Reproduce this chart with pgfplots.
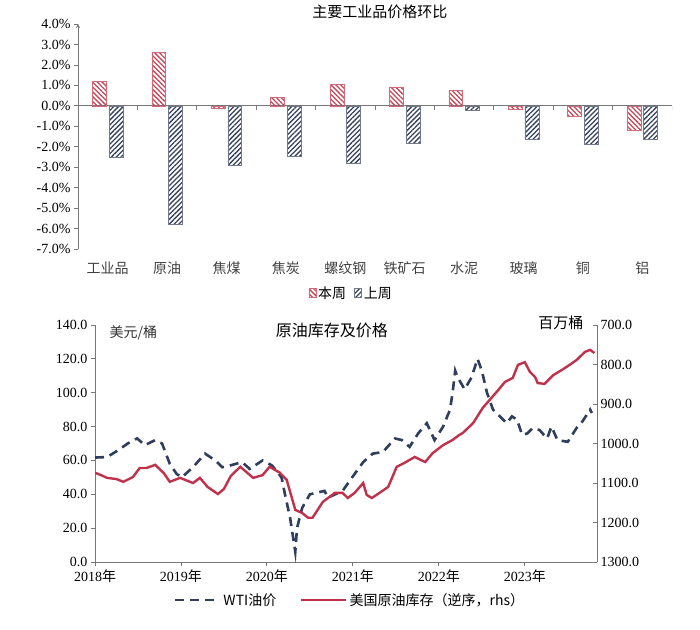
\documentclass[border=0pt]{standalone}
\usepackage{fontspec}
\setmainfont{Liberation Serif}
\newfontfamily\cjk{Noto Sans CJK SC}
\usepackage{pgfplots}
\usepackage{pgfplotstable}
\pgfplotsset{compat=1.18}
\usetikzlibrary{patterns.meta}

\definecolor{barred}{RGB}{196,70,88}
\definecolor{barblue}{RGB}{52,64,92}
\definecolor{oilred}{RGB}{192,50,75}
\definecolor{wtiblue}{RGB}{46,62,92}
\definecolor{axgray}{RGB}{120,120,120}

% weekly change, percent
\pgfplotstableread{
x ben shang
0  1.20 -2.50
1  2.62 -5.80
2 -0.10 -2.90
3  0.40 -2.45
4  1.05 -2.80
5  0.92 -1.85
6  0.75 -0.20
7 -0.15 -1.65
8 -0.50 -1.90
9 -1.20 -1.65
}\barsdata

\pgfplotstableread{
t wti
2018.00 61.7
2018.14 62
2018.27 66
2018.38 70
2018.49 73
2018.58 69
2018.70 72
2018.78 70
2018.87 58
2018.95 52
2019.01 50
2019.14 56
2019.28 64
2019.40 60
2019.48 56
2019.57 57
2019.71 59
2019.80 55
2019.95 60
2020.06 57
2020.17 50
2020.21 40
2020.27 26
2020.33 6
2020.35 20
2020.41 32
2020.50 40
2020.67 42
2020.71 38
2020.88 42
2021.02 52
2021.12 59
2021.23 64
2021.35 65
2021.49 73
2021.57 72
2021.66 68
2021.76 76
2021.86 82
2021.95 72
2022.05 80
2022.13 90
2022.16 100
2022.19 113
2022.22 109
2022.30 102
2022.38 109
2022.45 120
2022.50 113
2022.56 100
2022.63 90
2022.71 86
2022.79 82
2022.85 86
2022.91 84
2022.97 75
2023.03 76
2023.09 79
2023.17 78
2023.26 73
2023.31 80
2023.38 72
2023.50 71
2023.60 79
2023.67 83
2023.76 90
2023.78 88
}\wtidata

\pgfplotstableread{
t inv
2018.00 1074
2018.07 1080
2018.14 1087
2018.25 1090
2018.33 1097
2018.44 1085
2018.52 1062
2018.60 1062
2018.70 1054
2018.80 1075
2018.87 1097
2018.99 1087
2019.14 1100
2019.22 1087
2019.31 1110
2019.43 1128
2019.50 1115
2019.58 1082
2019.69 1059
2019.84 1087
2019.95 1080
2020.03 1059
2020.15 1074
2020.23 1092
2020.33 1168
2020.41 1176
2020.48 1188
2020.53 1188
2020.65 1148
2020.79 1125
2020.88 1125
2020.94 1138
2021.02 1125
2021.12 1100
2021.16 1130
2021.22 1138
2021.31 1125
2021.41 1110
2021.51 1059
2021.60 1049
2021.72 1034
2021.84 1047
2021.93 1024
2022.05 1004
2022.16 991
2022.24 978
2022.28 973
2022.40 948
2022.51 910
2022.67 870
2022.77 844
2022.86 834
2022.92 801
2023.00 794
2023.06 819
2023.12 832
2023.15 847
2023.23 849
2023.33 827
2023.43 814
2023.52 801
2023.60 789
2023.70 768
2023.76 763
2023.81 771
}\invdata

\pgfplotsset{
  every axis/.append style={font=\fontsize{14}{16}\selectfont},
  /pgf/number format/assume math mode=true,
}

\begin{document}
\begin{tikzpicture}
\path[use as bounding box] (0,0) rectangle (700pt,629pt);

% ---- top: bar chart
\begin{axis}[
  at={(78pt,380pt)}, anchor=south west,
  scale only axis, width=594pt, height=225pt,
  xmin=-0.5, xmax=9.5, ymin=-7, ymax=4,
  axis y line=left, axis x line=bottom,
  x axis line style={draw=none}, y axis line style={axgray, line width=0.8pt},
  ytick={-7,...,4},
  yticklabel={\pgfmathprintnumber[fixed,fixed zerofill,precision=1]{\tick}\%},
  tick style={axgray, line width=0.8pt},
  major tick length=4pt, tick align=outside,
  xtick={0,...,9},
  major x tick style={draw=none},
  xticklabels={工业品,原油,焦煤,焦炭,螺纹钢,铁矿石,水泥,玻璃,铜,铝},
  xticklabel style={font=\cjk\fontsize{14}{16}\selectfont, text=black!75, yshift=-5pt},
  extra y ticks={0}, extra y tick labels={},
  extra y tick style={grid=major, major grid style={axgray, line width=0.8pt}},
  title={\cjk 主要工业品价格环比},
  title style={at={(0.508,1.0)}, anchor=south, yshift=-4pt, font=\fontsize{15}{17}\selectfont},
  legend style={at={(0.46,-0.196)}, anchor=center, draw=none, fill=none,
    legend columns=2, font=\cjk\fontsize{14}{16}\selectfont,
    /tikz/every even column/.append style={column sep=6pt}},
  legend image code/.code={\draw[#1] (0pt,-4pt) rectangle (7pt,5pt);},
]
\addplot[ycomb, axgray, line width=0.8pt, forget plot] coordinates
  {(-0.5,-0.2) (0.5,-0.2) (1.5,-0.2) (2.5,-0.2) (3.5,-0.2) (4.5,-0.2)
   (5.5,-0.2) (6.5,-0.2) (7.5,-0.2) (8.5,-0.2) (9.5,-0.2)};
\addplot[ybar, bar width=0.235, bar shift=-0.14, draw=barred!80, line width=0.6pt,
  pattern={Lines[angle=-45,distance=3.4pt,line width=1.3pt]}, pattern color=barred]
  table[x=x, y=ben] {\barsdata};
\addlegendentry{本周}
\addplot[ybar, bar width=0.235, bar shift=0.14, draw=barblue!70, line width=0.6pt,
  pattern={Lines[angle=45,distance=3.4pt,line width=1.3pt]}, pattern color=barblue]
  table[x=x, y=shang] {\barsdata};
\addlegendentry{上周}
\end{axis}

% ---- bottom: oil price and inventory
\begin{axis}[
  at={(95pt,67pt)}, anchor=south west,
  scale only axis, width=502pt, height=237pt,
  xmin=2018, xmax=2023.84, ymin=0, ymax=140,
  clip mode=individual,
  axis y line*=left, axis x line*=bottom,
  axis line style={axgray, line width=0.8pt},
  tick style={axgray, line width=0.8pt},
  major tick length=4pt, tick align=outside,
  ytick={0,20,...,140},
  yticklabel={\pgfmathprintnumber[fixed,fixed zerofill,precision=1]{\tick}},
  xtick={2018,...,2023},
  xticklabels={2018{\cjk 年},2019{\cjk 年},2020{\cjk 年},2021{\cjk 年},2022{\cjk 年},2023{\cjk 年}},
]
\addplot[wtiblue, line width=2.6pt, dash pattern=on 9pt off 6pt] table[x=t, y=wti] {\wtidata};
\node[anchor=west, font=\cjk\fontsize{14}{16}\selectfont, text=black!80]
  at (rel axis cs:0.022,0.966) {美元/桶};
\node[anchor=center, font=\cjk\fontsize{16}{18}\selectfont]
  at (rel axis cs:0.472,0.979) {原油库存及价格};
\node[anchor=east, font=\cjk\fontsize{15}{17}\selectfont]
  at (rel axis cs:0.98,1.008) {百万桶};
\end{axis}

\begin{axis}[
  at={(95pt,67pt)}, anchor=south west,
  scale only axis, width=502pt, height=237pt,
  xmin=2018, xmax=2023.84, ymin=700, ymax=1300, y dir=reverse,
  axis y line*=right, axis x line=none,
  axis line style={axgray, line width=0.8pt},
  tick style={axgray, line width=0.8pt},
  major tick length=4pt, tick align=inside,
  ytick={700,800,...,1300},
  yticklabel={\pgfmathprintnumber[fixed,fixed zerofill,precision=1,1000 sep={}]{\tick}},
  legend style={at={(0.508,-0.16)}, anchor=center, draw=none, fill=none,
    legend columns=2, font=\cjk\fontsize{14}{16}\selectfont,
    /tikz/every even column/.append style={column sep=22pt}},
  legend image code/.code={\draw[#1] (0pt,0pt) -- (45pt,0pt);},
]
\addlegendimage{wtiblue, line width=2.6pt, dash pattern=on 9pt off 6pt}
\addlegendentry{WTI油价}
\addplot[oilred, line width=2.4pt] table[x=t, y=inv] {\invdata};
\addlegendentry{美国原油库存（逆序，rhs）}
\end{axis}
\end{tikzpicture}
\end{document}
